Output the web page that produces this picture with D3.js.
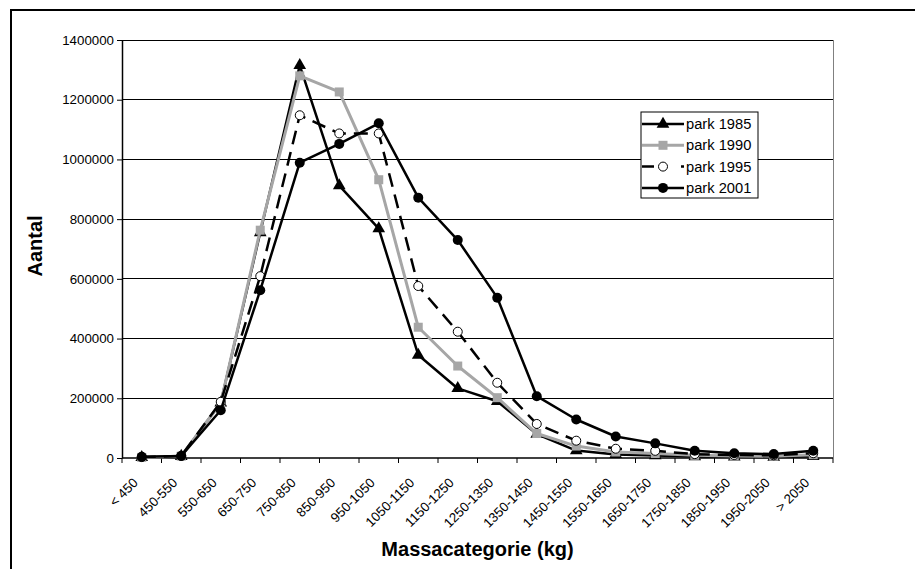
<!DOCTYPE html>
<html>
<head>
<meta charset="utf-8">
<title>Massacategorie</title>
<style>
	body { margin: 0; background: #fff; }
	text { font-family: "Liberation Sans", Arial, sans-serif; }
</style>
</head>
<body>
<svg width="915" height="569"></svg>
<script src="https://d3js.org/d3.v7.min.js"></script>
<script>
// data
const categories = ['< 450', '450-550', '550-650', '650-750', '750-850', '850-950', '950-1050',
	'1050-1150', '1150-1250', '1250-1350', '1350-1450', '1450-1550', '1550-1650', '1650-1750',
	'1750-1850', '1850-1950', '1950-2050', '> 2050'];
const park1985 = [2000, 6000, 185000, 755000, 1315000, 912000, 768000, 345000, 233000, 190000, 80000, 25000, 12000, 8000, 5000, 4000, 3000, 6000];
const park1990 = [2000, 6000, 185000, 763000, 1280000, 1226000, 932000, 438000, 308000, 202000, 82000, 40000, 20000, 15000, 9000, 7000, 6000, 11000];
const park1995 = [3000, 7000, 188000, 609000, 1148000, 1087000, 1087000, 576000, 423000, 252000, 114000, 58000, 31000, 24000, 13000, 10000, 9000, 16000];
const park2001 = [4000, 7000, 160000, 562000, 989000, 1052000, 1121000, 872000, 730000, 537000, 207000, 129000, 72000, 49000, 24000, 16000, 13000, 24000];
const yTicks = [0, 200000, 400000, 600000, 800000, 1000000, 1200000, 1400000];

const series = [
	{name: 'park 1985', values: park1985, color: '#000', width: 2.5, dash: null, marker: 'triangle'},
	{name: 'park 1990', values: park1990, color: '#a6a6a6', width: 3, dash: null, marker: 'square'},
	{name: 'park 1995', values: park1995, color: '#000', width: 2.5, dash: '14,8', marker: 'open'},
	{name: 'park 2001', values: park2001, color: '#000', width: 2.5, dash: null, marker: 'dot'},
];

const svg = d3.select('svg');
const pLeft = 122, pRight = 833, pTop = 40, pBottom = 458;

// outer chart border (runs off the picture to the right and bottom)
svg.append('rect')
	.attr('x', 11).attr('y', 10).attr('width', 1000).attr('height', 700)
	.attr('fill', 'none').attr('stroke', '#000').attr('stroke-width', 2);

const x = d3.scaleBand().domain(categories).range([pLeft, pRight]);
const y = d3.scaleLinear().domain([0, 1400000]).range([pBottom, pTop]);

// gridlines
svg.append('g').selectAll('line').data(yTicks.slice(1))
	.join('line')
	.attr('x1', pLeft).attr('x2', pRight)
	.attr('y1', d => y(d)).attr('y2', d => y(d))
	.attr('stroke', '#000').attr('stroke-width', 1).attr('shape-rendering', 'crispEdges');

svg.append('line')
	.attr('x1', pRight).attr('x2', pRight).attr('y1', pTop).attr('y2', pBottom)
	.attr('stroke', '#808080').attr('shape-rendering', 'crispEdges');

// y axis
const yAxis = svg.append('g')
	.attr('transform', `translate(${pLeft},0)`)
	.call(d3.axisLeft(y).tickValues(yTicks).tickFormat(d3.format('d')).tickSize(5).tickSizeOuter(0));
yAxis.select('.domain').attr('stroke-width', 1.5);
yAxis.selectAll('text').attr('font-size', 13.3).attr('fill', '#000').attr('x', -8)
	.attr('font-family', '"Liberation Sans", Arial, sans-serif');

// x axis, ticks between categories
const xAxis = svg.append('g').attr('transform', `translate(0,${pBottom})`);
xAxis.append('line').attr('x1', pLeft).attr('x2', pRight).attr('stroke', '#000').attr('stroke-width', 1.5);
xAxis.selectAll('.tk').data(categories.concat(['end']))
	.join('line').attr('class', 'tk')
	.attr('x1', (d, i) => pLeft + i * x.step()).attr('x2', (d, i) => pLeft + i * x.step())
	.attr('y1', 0).attr('y2', 5).attr('stroke', '#000');
xAxis.selectAll('text').data(categories)
	.join('text')
	.attr('transform', d => `translate(${x(d) + x.bandwidth() / 2 - 3},${25.5}) rotate(-45)`)
	.attr('text-anchor', 'end')
	.attr('font-size', 13.3)
	.text(d => d);

// axis titles
svg.append('text')
	.attr('transform', `translate(42,${(pTop + pBottom) / 2 - 3}) rotate(-90)`)
	.attr('text-anchor', 'middle')
	.attr('font-size', 20).attr('font-weight', 'bold')
	.text('Aantal');
svg.append('text')
	.attr('x', (pLeft + pRight) / 2).attr('y', 556)
	.attr('text-anchor', 'middle')
	.attr('font-size', 20).attr('font-weight', 'bold')
	.text('Massacategorie (kg)');

// markers
function drawMarker(g, s, cx, cy) {
	if (s.marker === 'triangle') {
		g.append('path').attr('d', d3.symbol(d3.symbolTriangle, 70)())
			.attr('transform', `translate(${cx},${cy})`).attr('fill', '#000');
	} else if (s.marker === 'square') {
		g.append('rect').attr('x', cx - 4.5).attr('y', cy - 4.5).attr('width', 9).attr('height', 9)
			.attr('fill', s.color);
	} else if (s.marker === 'open') {
		g.append('circle').attr('cx', cx).attr('cy', cy).attr('r', 4.5)
			.attr('fill', '#fff').attr('stroke', '#000').attr('stroke-width', 1);
	} else {
		g.append('circle').attr('cx', cx).attr('cy', cy).attr('r', 5).attr('fill', '#000');
	}
}

const line = d3.line()
	.x((d, i) => x(categories[i]) + x.bandwidth() / 2)
	.y(d => y(d));

series.forEach(s => {
	const g = svg.append('g');
	g.append('path').datum(s.values)
		.attr('d', line)
		.attr('fill', 'none')
		.attr('stroke', s.color)
		.attr('stroke-width', s.width)
		.attr('stroke-dasharray', s.dash)
		.attr('stroke-linejoin', 'round');
	s.values.forEach((v, i) => drawMarker(g, s, x(categories[i]) + x.bandwidth() / 2, y(v)));
});

// legend
const legend = svg.append('g');
legend.append('rect')
	.attr('x', 641).attr('y', 112).attr('width', 117).attr('height', 86)
	.attr('fill', '#fff').attr('stroke', '#000').attr('stroke-width', 1);
series.forEach((s, i) => {
	const ly = 124 + i * 21.3;
	legend.append('line')
		.attr('x1', 642).attr('x2', 684).attr('y1', ly).attr('y2', ly)
		.attr('stroke', s.color).attr('stroke-width', s.width)
		.attr('stroke-dasharray', s.dash ? '12,27' : null);
	drawMarker(legend, s, 663, ly);
	legend.append('text')
		.attr('x', 686).attr('y', ly).attr('dy', '0.35em')
		.attr('font-size', 14.7)
		.text(s.name);
});
</script>
</body>
</html>
